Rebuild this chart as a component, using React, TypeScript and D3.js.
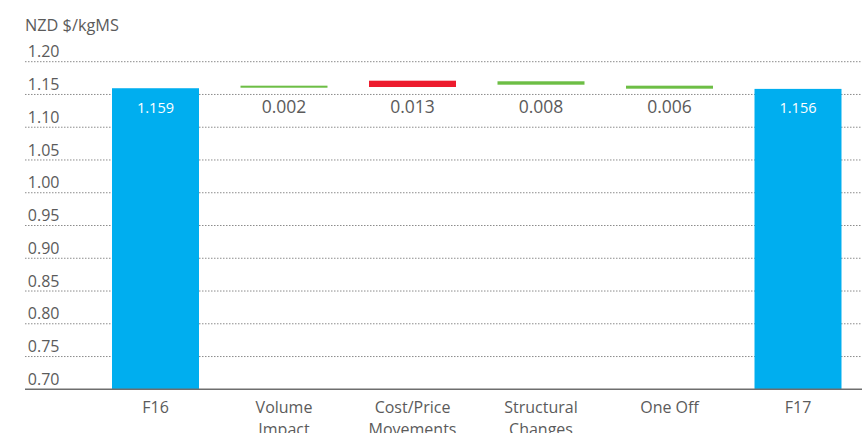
import { useEffect, useRef } from "react";
import * as d3 from "d3";

// chart data
const categories = ["F16", "Volume Impact", "Cost/Price Movements", "Structural Changes", "One Off", "F17"];
const categoryLines = [["F16"], ["Volume", "Impact"], ["Cost/Price", "Movements"], ["Structural", "Changes"], ["One Off"], ["F17"]];
const barKinds = ["total", "increase", "decrease", "increase", "increase", "total"];
const barLow = [0.7, 1.1603, 1.1614, 1.1649, 1.1588, 0.7];
const barHigh = [1.1595, 1.1634, 1.171, 1.1701, 1.1634, 1.1585];
const valueLabels = ["1.159", "0.002", "0.013", "0.008", "0.006", "1.156"];
const yTicks = [0.7, 0.75, 0.8, 0.85, 0.9, 0.95, 1.0, 1.05, 1.1, 1.15, 1.2];
const yTitle = "NZD $/kgMS";

const colors: Record<string, string> = {
  total: "#00aeef",
  increase: "#6dbe45",
  decrease: "#ed1c2e",
};

const W = 862;
const H = 433;
const FONT = "'Open Sans', sans-serif";
const TEXT = "#5b5b5b";

const Waterfall = () => {
  const svgRef = useRef<SVGSVGElement>(null);

  useEffect(() => {
    const svg = d3.select(svgRef.current);
    svg.selectAll("*").remove();

    const x = d3
      .scaleBand()
      .domain(categories)
      .range([91.25, 862.25])
      .paddingInner(0.323)
      .paddingOuter(0.1615);

    const y = d3.scaleLinear().domain([0.7, 1.2]).range([389.3, 61.7]);

    // gridlines
    svg
      .append("g")
      .selectAll("line")
      .data(yTicks.slice(1))
      .enter()
      .append("line")
      .attr("x1", 25)
      .attr("x2", W)
      .attr("y1", (d) => y(d))
      .attr("y2", (d) => y(d))
      .attr("stroke", "#8c8c8c")
      .attr("stroke-width", 1)
      .attr("stroke-dasharray", "1.5,1.5");

    // tick labels
    svg
      .append("g")
      .selectAll("text")
      .data(yTicks)
      .enter()
      .append("text")
      .attr("x", 59.5)
      .attr("y", (d) => y(d) - 4.3)
      .attr("text-anchor", "end")
      .attr("font-family", FONT)
      .attr("font-size", 16)
      .attr("fill", TEXT)
      .text((d) => d.toFixed(2));

    // axis title
    svg
      .append("text")
      .attr("x", 25)
      .attr("y", 30.7)
      .attr("font-family", FONT)
      .attr("font-size", 16.3)
      .attr("fill", TEXT)
      .text(yTitle);

    // bars
    svg
      .append("g")
      .selectAll("rect")
      .data(categories)
      .enter()
      .append("rect")
      .attr("x", (d) => x(d)!)
      .attr("width", x.bandwidth())
      .attr("y", (_, i) => y(barHigh[i]))
      .attr("height", (_, i) => y(barLow[i]) - y(barHigh[i]))
      .attr("fill", (_, i) => colors[barKinds[i]]);

    // value labels
    svg
      .append("g")
      .selectAll("text")
      .data(categories)
      .enter()
      .append("text")
      .attr("x", (d) => x(d)! + x.bandwidth() / 2)
      .attr("y", (_, i) => y(1.15) + (barKinds[i] === "total" ? 18.2 : 18.8))
      .attr("text-anchor", "middle")
      .attr("font-family", FONT)
      .attr("font-size", (_, i) => (barKinds[i] === "total" ? 14.5 : 17.5))
      .attr("fill", (_, i) => (barKinds[i] === "total" ? "#ffffff" : TEXT))
      .text((_, i) => valueLabels[i]);

    // baseline
    svg
      .append("line")
      .attr("x1", 25)
      .attr("x2", W)
      .attr("y1", y(0.7))
      .attr("y2", y(0.7))
      .attr("stroke", "#6e6e6e")
      .attr("stroke-width", 1.5);

    // category labels
    const cat = svg
      .append("g")
      .selectAll("text")
      .data(categories)
      .enter()
      .append("text")
      .attr("text-anchor", "middle")
      .attr("font-family", FONT)
      .attr("font-size", 16)
      .attr("fill", TEXT);

    cat.each(function (d, i) {
      const t = d3.select(this);
      categoryLines[i].forEach((line, j) => {
        t.append("tspan")
          .attr("x", x(d)! + x.bandwidth() / 2)
          .attr("y", 412.7 + j * 22.6)
          .text(line);
      });
    });
  }, []);

  return (
    <svg
      ref={svgRef}
      width={W}
      height={H}
      style={{ position: "absolute", left: 0, top: 0, display: "block", background: "#fff" }}
    ></svg>
  );
};

export default function App() {
  return <Waterfall />;
}
